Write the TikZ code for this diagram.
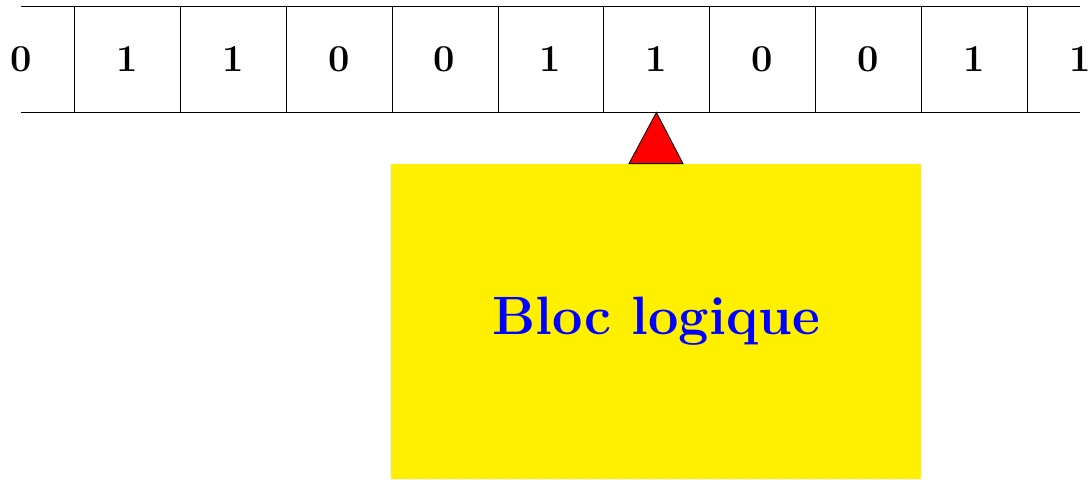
\documentclass[tikz,border=0pt]{standalone}
\usepackage{fontspec}
\usepackage{xcolor}
\usepackage{tikz}
\usetikzlibrary{positioning,calc}

\newfontface\blocgras{lmroman12-bold.otf}
\definecolor{blocjaune}{RGB}{255,240,0}

\tikzset{
  casetape/.style={minimum width=52.95pt, minimum height=52.5pt, inner sep=0pt,
    font=\fontsize{19}{22}\selectfont\bfseries},
  bloc/.style={fill=blocjaune, minimum width=265pt, minimum height=157.5pt, inner sep=0pt,
    text=blue, font=\blocgras\fontsize{27}{32}\selectfont},
  tete/.style={fill=red, draw=black, line join=miter}
}

\begin{document}
\begin{tikzpicture}[x=0.5pt,y=-0.5pt]
  \useasboundingbox (0,0) rectangle (1089,479);
  % ruban
  \foreach \v [count=\i from 0] in {0,1,1,0,0,1,1,0,0,1,1} {
    \node[casetape] (c\i) at (21+105.9*\i,59.5) {\v};
  }
  \draw (c0.center |- c0.north) -- (c10.center |- c10.north);
  \draw (c0.center |- c0.south) -- (c10.center |- c10.south);
  \foreach \i in {0,...,9} {
    \draw (c\i.north east) -- (c\i.south east);
  }
  % bloc logique et tete de lecture
  \node[bloc] (bloc) at (656,321.5) {Bloc logique};
  \draw[tete] (c6.south) -- ($(bloc.north)+(27,0)$) -- ($(bloc.north)+(-27,0)$) -- cycle;
\end{tikzpicture}
\end{document}
